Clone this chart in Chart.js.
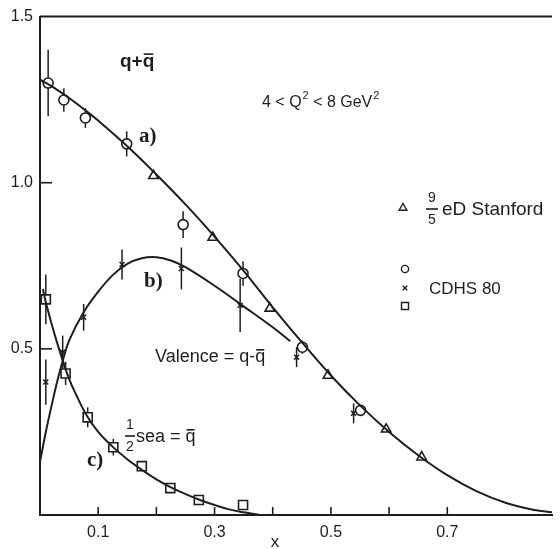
<!DOCTYPE html>
<html>
<head>
<meta charset="utf-8">
<script src="https://cdn.jsdelivr.net/npm/chart.js@4.4.1/dist/chart.umd.min.js"></script>
<style>
  html, body { margin: 0; padding: 0; background: #fff; }
  #wrap { width: 560px; height: 549px; }
</style>
</head>
<body>
<div id="wrap"><canvas id="chart" width="560" height="549"></canvas></div>
<script>
// curve a) q + qbar
const curveAX = [0, 0.025, 0.05, 0.075, 0.1, 0.15, 0.2, 0.25, 0.3, 0.35, 0.4, 0.45, 0.5, 0.55, 0.6, 0.65, 0.7, 0.75, 0.8, 0.85, 0.88];
const curveAY = [1.31, 1.285, 1.255, 1.222, 1.187, 1.11, 1.025, 0.935, 0.838, 0.735, 0.625, 0.52, 0.42, 0.33, 0.25, 0.18, 0.12, 0.072, 0.037, 0.015, 0.008];

// curve b) valence = q - qbar
const curveBX = [0, 0.01, 0.02, 0.03, 0.04, 0.05, 0.075, 0.1, 0.125, 0.15, 0.175, 0.2, 0.225, 0.25, 0.3, 0.35, 0.4, 0.43];
const curveBY = [0.16, 0.25, 0.33, 0.405, 0.47, 0.525, 0.61, 0.672, 0.722, 0.756, 0.773, 0.776, 0.766, 0.746, 0.69, 0.628, 0.565, 0.523];

// curve c) 1/2 sea = qbar
const curveCX = [0.005, 0.01, 0.02, 0.03, 0.04, 0.05, 0.06, 0.08, 0.1, 0.125, 0.15, 0.175, 0.2, 0.225, 0.25, 0.275, 0.3, 0.325, 0.35, 0.378];
const curveCY = [0.68, 0.64, 0.575, 0.515, 0.46, 0.41, 0.37, 0.3, 0.25, 0.205, 0.168, 0.136, 0.107, 0.083, 0.063, 0.045, 0.03, 0.017, 0.008, 0];

// CDHS 80, q + qbar (circles)
const circX = [0.014, 0.041, 0.078, 0.149, 0.246, 0.349, 0.451, 0.551];
const circY = [1.3, 1.249, 1.195, 1.117, 0.874, 0.727, 0.505, 0.315];
const circErr = [0.1, 0.035, 0.03, 0.038, 0.04, 0.037, 0.02, 0];

// CDHS 80, valence (crosses)
const crossX = [0.01, 0.039, 0.075, 0.141, 0.243, 0.344, 0.441, 0.539];
const crossY = [0.4, 0.49, 0.595, 0.754, 0.742, 0.631, 0.475, 0.306];
const crossErr = [0.068, 0.05, 0.04, 0.045, 0.063, 0.08, 0.03, 0.03];

// CDHS 80, sea (squares)
const sqX = [0.01, 0.044, 0.082, 0.126, 0.175, 0.224, 0.273, 0.349];
const sqY = [0.649, 0.426, 0.294, 0.204, 0.147, 0.081, 0.045, 0.03];
const sqErr = [0.075, 0.035, 0.03, 0.025, 0, 0, 0, 0];

// 9/5 eD Stanford (triangles)
const triX = [0.195, 0.297, 0.395, 0.495, 0.595, 0.656];
const triY = [1.021, 0.835, 0.622, 0.42, 0.258, 0.174];

const xTickLabels = ["0.1", "0.3", "0.5", "0.7"];
const yTickLabels = ["0.5", "1.0", "1.5"];

const ink = "#1e1e1e";
const sans = "'Liberation Sans', Arial, sans-serif";
const serif = "'Liberation Serif', 'DejaVu Serif', serif";

const pts = (xs, ys) => xs.map((x, i) => ({ x: x, y: ys[i] }));

function curve(xs, ys) {
  return {
    data: pts(xs, ys),
    showLine: true,
    pointRadius: 0,
    borderColor: ink,
    borderWidth: 2,
    tension: 0.4,
  };
}

function marks(xs, ys, style, r, bw) {
  return {
    data: pts(xs, ys),
    showLine: false,
    pointStyle: style,
    pointRadius: r,
    pointBorderWidth: bw,
    pointBorderColor: ink,
    pointBackgroundColor: "#fff",
  };
}

// text with an overline over the tail of the string (for q-bar)
function barText(ctx, text, x, y, from, size) {
  ctx.fillText(text, x, y);
  const x0 = x + ctx.measureText(text.slice(0, from)).width;
  const x1 = x + ctx.measureText(text).width;
  ctx.fillRect(x0 + 1, y - size * 0.72, x1 - x0 - 2, 1.6);
}

function frac(ctx, a, b, cx, cy, size, w) {
  ctx.font = size + "px " + sans;
  ctx.textAlign = "center";
  ctx.textBaseline = "middle";
  ctx.fillText(a, cx, cy - size * 0.78);
  ctx.fillText(b, cx, cy + size * 0.8);
  ctx.fillRect(cx - w / 2, cy - 0.8, w, 1.6);
  ctx.textAlign = "left";
  ctx.textBaseline = "alphabetic";
}

const decor = {
  id: "decor",
  beforeDatasetsDraw(chart) {
    const ctx = chart.ctx;
    const xs = chart.scales.x;
    const ys = chart.scales.y;
    const area = chart.chartArea;
    ctx.save();
    ctx.strokeStyle = ink;

    // top frame line
    ctx.lineWidth = 2;
    ctx.beginPath();
    ctx.moveTo(area.left, area.top);
    ctx.lineTo(area.right, area.top);
    ctx.stroke();

    // inward ticks
    ctx.lineWidth = 1.6;
    xs.ticks.forEach((t) => {
      if (t.value <= 0 || t.value >= xs.max - 1e-6) return;
      const px = xs.getPixelForValue(t.value);
      ctx.beginPath();
      ctx.moveTo(px, area.bottom);
      ctx.lineTo(px, area.bottom - 8);
      ctx.stroke();
    });
    ys.ticks.forEach((t) => {
      if (t.value <= 0 || t.value >= ys.max - 1e-6) return;
      const py = ys.getPixelForValue(t.value);
      ctx.beginPath();
      ctx.moveTo(area.left, py);
      ctx.lineTo(area.left + 12, py);
      ctx.stroke();
    });

    // error bars
    ctx.lineWidth = 1.5;
    [[circX, circY, circErr], [crossX, crossY, crossErr], [sqX, sqY, sqErr]].forEach(([X, Y, E]) => {
      X.forEach((x, i) => {
        if (!E[i]) return;
        const px = xs.getPixelForValue(x);
        ctx.beginPath();
        ctx.moveTo(px, ys.getPixelForValue(Y[i] - E[i]));
        ctx.lineTo(px, ys.getPixelForValue(Y[i] + E[i]));
        ctx.stroke();
      });
    });
    ctx.restore();
  },
  afterDatasetsDraw(chart) {
    const ctx = chart.ctx;
    ctx.save();
    ctx.fillStyle = ink;
    ctx.strokeStyle = ink;
    ctx.textAlign = "left";
    ctx.textBaseline = "alphabetic";

    // q + qbar
    ctx.font = "bold 19px " + sans;
    barText(ctx, "q+q", 120, 67, 2, 19);

    // 4 < Q^2 < 8 GeV^2
    ctx.font = "16px " + sans;
    let x = 262;
    const y = 107;
    const pieces = [["4 < Q", false], ["2", true], [" < 8 GeV", false], ["2", true]];
    pieces.forEach(([s, sup]) => {
      if (sup) {
        ctx.font = "11px " + sans;
        ctx.fillText(s, x + 1, y - 8);
        x += ctx.measureText(s).width + 1;
        ctx.font = "16px " + sans;
      } else {
        ctx.fillText(s, x, y);
        x += ctx.measureText(s).width;
      }
    });

    // a) b) c)
    ctx.font = "bold 21px " + serif;
    ctx.fillText("a)", 139, 142);
    ctx.fillText("b)", 144, 287);
    ctx.fillText("c)", 87, 466);

    // Valence = q - qbar
    ctx.font = "18px " + sans;
    barText(ctx, "Valence = q-q", 155, 362, 12, 18);

    // 1/2 sea = qbar
    frac(ctx, "1", "2", 130, 436, 14, 10);
    ctx.font = "18px " + sans;
    barText(ctx, "sea = q", 136, 442, 6, 18);

    // legend
    const H = Chart.helpers;
    ctx.lineWidth = 1.4;
    ctx.fillStyle = "#fff";
    H.drawPoint(ctx, { pointStyle: "triangle", radius: 4.5, borderWidth: 1.4 }, 403, 208);
    H.drawPoint(ctx, { pointStyle: "circle", radius: 3.6, borderWidth: 1.4 }, 405, 269);
    H.drawPoint(ctx, { pointStyle: "crossRot", radius: 3.2, borderWidth: 1.4 }, 405, 288);
    H.drawPoint(ctx, { pointStyle: "rect", radius: 5, borderWidth: 1.4 }, 405, 306);
    ctx.fillStyle = ink;
    frac(ctx, "9", "5", 432, 209, 14, 12);
    ctx.font = "19px " + sans;
    ctx.fillText("eD Stanford", 442, 215);
    ctx.font = "17px " + sans;
    ctx.fillText("CDHS 80", 429, 294);

    // axis title
    ctx.font = "17px " + sans;
    ctx.textAlign = "center";
    ctx.fillText("x", 275, 547);
    ctx.restore();
  },
};

const datasets = [
  curve(curveAX, curveAY),
  curve(curveBX, curveBY),
  curve(curveCX, curveCY),
  marks(triX, triY, "triangle", 5.5, 1.6),
  marks(sqX, sqY, "rect", 6.4, 1.6),
  marks(circX, circY, "circle", 5, 1.6),
  marks(crossX, crossY, "crossRot", 3.5, 1.5),
];

new Chart(document.getElementById("chart").getContext("2d"), {
  type: "scatter",
  data: { datasets: datasets },
  options: {
    responsive: false,
    animation: false,
    devicePixelRatio: 1,
    layout: { padding: { top: 16, right: 0, left: 0, bottom: 0 } },
    plugins: { legend: { display: false }, tooltip: { enabled: false } },
    scales: {
      x: {
        type: "linear",
        min: 0,
        max: 0.88,
        afterFit: (s) => { s.height = 34; },
        grid: { display: false, drawTicks: false },
        border: { display: true, color: ink, width: 2 },
        ticks: {
          stepSize: 0.1,
          autoSkip: false,
          maxRotation: 0,
          padding: 8,
          color: ink,
          font: { family: sans, size: 16 },
          callback: (v) => {
            const s = Number(v).toFixed(1);
            return xTickLabels.includes(s) && Math.abs(v - Number(s)) < 1e-6 ? s : "";
          },
        },
      },
      y: {
        type: "linear",
        min: 0,
        max: 1.5,
        afterFit: (s) => { s.width = 40; },
        grid: { display: false, drawTicks: false },
        border: { display: true, color: ink, width: 2 },
        ticks: {
          stepSize: 0.5,
          padding: 7,
          color: ink,
          font: { family: sans, size: 16 },
          callback: (v) => {
            const s = Number(v).toFixed(1);
            return yTickLabels.includes(s) ? s : "";
          },
        },
      },
    },
  },
  plugins: [decor],
});
</script>
</body>
</html>
